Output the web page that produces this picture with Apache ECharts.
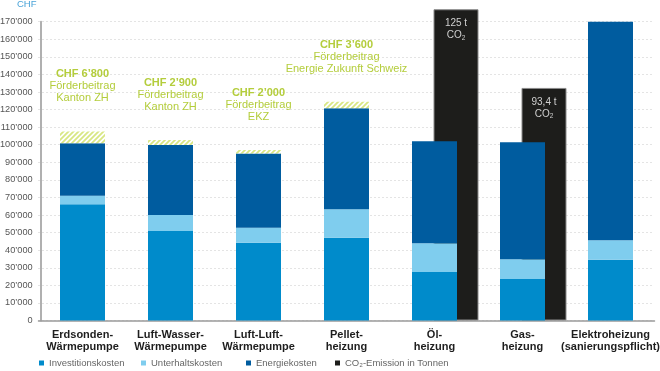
<!DOCTYPE html>
<html><head><meta charset="utf-8">
<script src="https://cdn.jsdelivr.net/npm/echarts@6/dist/echarts.min.js"></script>
<style>html,body{margin:0;padding:0;background:#fff}#c{width:660px;height:371px}</style>
</head><body><div id="c"></div>
<script>
const categories = ['Erdsonden-\nWärmepumpe', 'Luft-Wasser-\nWärmepumpe', 'Luft-Luft-\nWärmepumpe', 'Pellet-\nheizung', 'Öl-\nheizung', 'Gas-\nheizung', 'Elektroheizung\n(sanierungspflicht)'];
const invest = [66100, 50900, 44300, 47100, 27600, 23600, 34600];
const unterhalt = [4900, 9100, 8500, 16200, 16300, 11200, 11000];
const energie = [29800, 39800, 42200, 57500, 58100, 66600, 125200];
const foerder = [6800, 2900, 2000, 3600, null, null, null];
const foerderSources = ['Kanton ZH', 'Kanton ZH', 'EKZ', 'Energie Zukunft Schweiz', '', '', ''];
const co2 = [null, null, null, null, 125, 93.4, null];
const yTicks = { min: 0, max: 170000, interval: 10000 };

const FONT = '"Liberation Sans", Arial, sans-serif';
const GREEN = '#b4cd3c';
function fmt(v) { return String(v).replace(/\B(?=(\d{3})+(?!\d))/g, '’'); }

function hatch() {
  const c = document.createElement('canvas');
  c.width = 5; c.height = 5;
  const g = c.getContext('2d');
  g.fillStyle = '#ffffff'; g.fillRect(0, 0, 5, 5);
  g.strokeStyle = '#d8e783'; g.lineWidth = 1.8;
  g.beginPath();
  g.moveTo(0, 5); g.lineTo(5, 0);
  g.moveTo(-2.5, 2.5); g.lineTo(2.5, -2.5);
  g.moveTo(2.5, 7.5); g.lineTo(7.5, 2.5);
  g.stroke();
  return c;
}

const chart = echarts.init(document.getElementById('c'), null, { renderer: 'canvas' });
const gridA = { left: 38.5, top: 21.7, width: 616, bottom: 50.5, outerBoundsMode: 'none', containLabel: false };
const gridB = { left: 60, top: 21.7, width: 616, bottom: 50.5, outerBoundsMode: 'none', containLabel: false };
chart.setOption({
  animation: false,
  textStyle: { fontFamily: FONT },
  title: { text: 'CHF', left: 17, top: -1, padding: 0, textStyle: { fontSize: 9.5, fontWeight: 'normal', color: '#4aa3d8', fontFamily: FONT } },
  grid: [gridA, gridB],
  legend: [
    { data: ['Investitionskosten'], left: 39, top: 358 },
    { data: ['Unterhaltskosten'], left: 141, top: 358 },
    { data: ['Energiekosten'], left: 246, top: 358 },
    { data: ['CO₂-Emission in Tonnen'], left: 335, top: 358 }
  ].map(l => Object.assign(l, { icon: 'rect', itemWidth: 5, itemHeight: 5, itemGap: 4, padding: 0,
      itemStyle: { borderWidth: 0 },
      textStyle: { fontSize: 9.5, color: '#666', fontFamily: FONT, padding: [0, 0, 0, 0] } })),
  xAxis: [
    { type: 'category', gridIndex: 0, data: categories,
      axisLine: { lineStyle: { color: '#9a9a9a', width: 1.5 } }, axisTick: { show: false },
      axisLabel: { interval: 0, margin: 8, fontSize: 11, fontWeight: 'bold', color: '#1e1e1e', lineHeight: 12, fontFamily: FONT } },
    { type: 'category', gridIndex: 1, data: categories, show: false }
  ],
  yAxis: [
    { type: 'value', gridIndex: 0, min: yTicks.min, max: yTicks.max, interval: yTicks.interval, offset: -2.2,
      axisLine: { show: true, lineStyle: { color: '#b0b0b0', width: 2 } }, axisTick: { show: false },
      axisLabel: { margin: 8, fontSize: 9.2, color: '#555', fontFamily: FONT, formatter: v => fmt(v) },
      splitLine: { lineStyle: { color: '#c8c8c8', type: [1, 3], width: 1 } } },
    { type: 'value', gridIndex: 1, min: 0, max: 120, show: false, splitLine: { show: false } }
  ],
  series: [
    { name: 'CO₂-Emission in Tonnen', type: 'bar', xAxisIndex: 1, yAxisIndex: 1, data: co2, barWidth: 45, z: 1, clip: false,
      itemStyle: { color: '#1d1d1b', borderColor: '#8a8a8a', borderWidth: 1 },
      label: { show: true, position: 'insideTop', distance: 8, color: '#d0d0d0', fontSize: 10, lineHeight: 12, fontFamily: FONT,
        formatter: p => String(p.value).replace('.', ',') + ' t\nCO{sub|2}',
        rich: { sub: { fontSize: 6.5, color: '#d0d0d0', verticalAlign: 'bottom', padding: [4, 0, 0, 0] } } } },
    { name: 'Investitionskosten', type: 'bar', stack: 'k', data: invest, barWidth: 45, z: 3, itemStyle: { color: '#008bcb' } },
    { name: 'Unterhaltskosten', type: 'bar', stack: 'k', data: unterhalt, barWidth: 45, z: 3, itemStyle: { color: '#7fcdee' } },
    { name: 'Energiekosten', type: 'bar', stack: 'k', data: energie, barWidth: 45, z: 3, itemStyle: { color: '#005c9f' } },
    { name: 'Förderbeitrag', type: 'bar', stack: 'k', data: foerder, barWidth: 45, z: 3,
      itemStyle: { color: { image: hatch(), repeat: 'repeat' } },
      label: { show: true, position: 'top', distance: 27, align: 'center', fontFamily: FONT,
        formatter: p => p.value == null ? '' : '{a|CHF ' + fmt(p.value) + '}\n{t|Förderbeitrag}\n{t|' + foerderSources[p.dataIndex] + '}',
        rich: { a: { fontSize: 11, fontWeight: 'bold', color: GREEN, lineHeight: 12, fontFamily: FONT },
                t: { fontSize: 11, color: GREEN, lineHeight: 12, fontFamily: FONT } } } }
  ]
});
</script></body></html>
